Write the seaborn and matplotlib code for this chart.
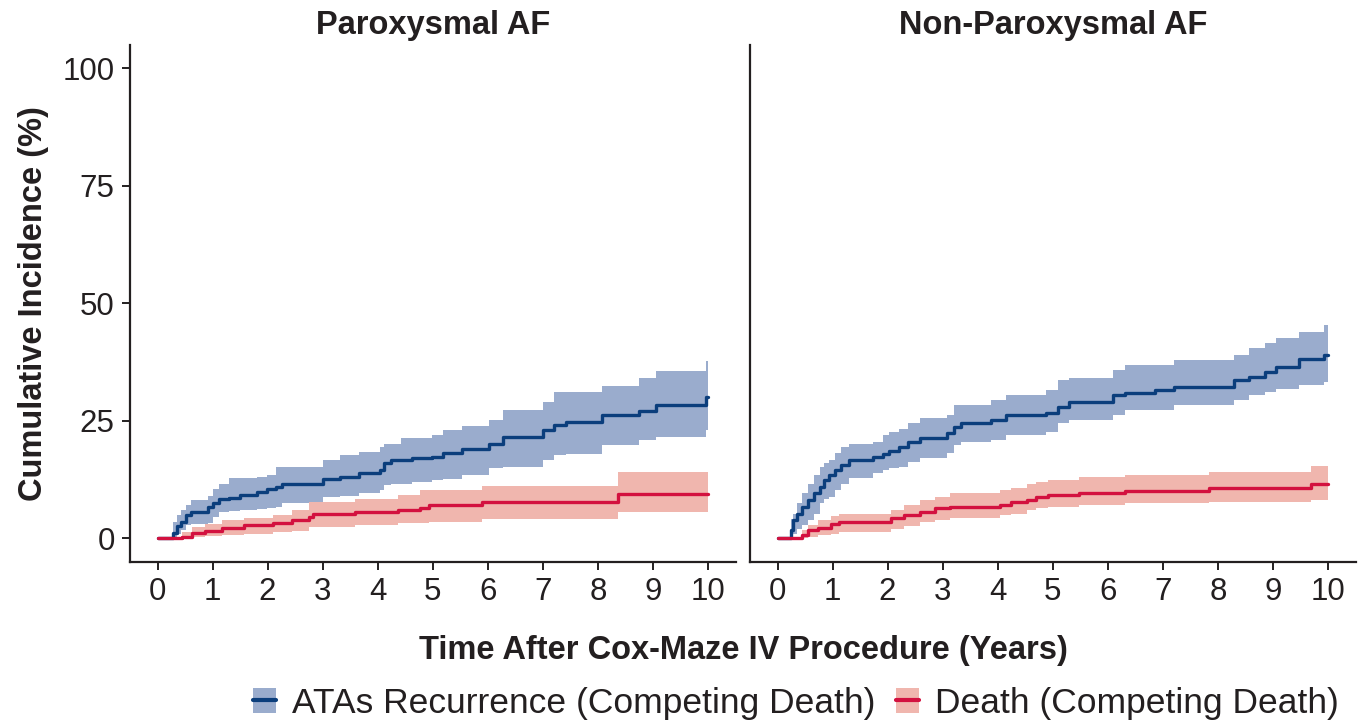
import numpy as np
import pandas as pd
import matplotlib
matplotlib.use("Agg")
import matplotlib.pyplot as plt
import seaborn as sns
from matplotlib.patches import Patch
from matplotlib.lines import Line2D

# ---------------- data ----------------
panel_titles = ["Paroxysmal AF", "Non-Paroxysmal AF"]
series_names = ["ATAs Recurrence (Competing Death)", "Death (Competing Death)"]
x_ticks = list(range(0, 11))
y_ticks = [0, 25, 50, 75, 100]

# Paroxysmal AF - ATAs recurrence
par_ata_t = [0, 0.28, 0.35, 0.42, 0.52, 0.60, 0.91, 1.00, 1.11, 1.29, 1.50, 1.81, 1.99, 2.16, 2.26, 3.00, 3.31, 3.66,
             4.04, 4.11, 4.25, 4.43, 4.63, 4.98, 5.19, 5.54, 6.03, 6.27, 7.00, 7.21, 7.42, 8.08, 8.75, 9.06, 9.97, 10.0]
par_ata_est = [0, 1.0, 2.5, 3.5, 4.9, 5.5, 6.5, 7.5, 8.2, 8.6, 9.1, 9.9, 10.4, 10.9, 11.5, 12.5, 13.0, 13.8,
               14.5, 15.9, 16.5, 16.5, 17.0, 17.3, 18.0, 18.9, 20.1, 21.4, 23.0, 24.0, 24.7, 26.2, 27.1, 28.3, 30.1, 30.1]
par_ata_hi = [0, 3.5, 5.0, 6.0, 7.0, 8.1, 9.0, 10.5, 11.6, 12.7, 12.7, 12.9, 13.4, 15.2, 15.2, 16.6, 17.7, 18.4,
              19.4, 20.1, 20.1, 21.2, 21.2, 21.9, 23.0, 23.8, 25.1, 27.2, 29.0, 31.1, 31.1, 32.3, 34.0, 35.6, 37.7, 37.7]
par_ata_lo = [0, 0.0, 0.8, 1.8, 2.8, 3.0, 3.3, 4.5, 5.6, 5.8, 6.0, 6.2, 6.4, 6.7, 7.4, 8.8, 9.0, 9.5,
              10.2, 11.3, 11.6, 11.6, 12.0, 12.3, 12.6, 13.4, 14.8, 15.2, 16.6, 17.7, 17.9, 19.8, 20.9, 21.6, 23.0, 23.0]

# Paroxysmal AF - death
par_dth_t = [0, 0.28, 0.45, 0.63, 0.87, 1.18, 1.57, 2.09, 2.44, 2.75, 2.82, 3.59, 4.36, 4.77, 4.94, 5.89, 8.36, 10.0]
par_dth_est = [0, 0.0, 0.3, 1.1, 1.6, 2.1, 2.8, 3.3, 3.8, 4.5, 5.1, 5.6, 6.0, 6.4, 7.0, 7.6, 9.4, 9.4]
par_dth_hi = [0, 0.0, 1.3, 2.4, 3.0, 3.8, 4.2, 4.9, 6.0, 7.7, 7.7, 8.4, 9.1, 10.2, 10.2, 11.1, 14.0, 14.0]
par_dth_lo = [0, 0.0, 0.0, 0.3, 0.5, 0.6, 0.9, 1.3, 1.5, 2.4, 2.4, 2.8, 3.3, 3.3, 3.5, 4.0, 5.6, 5.6]

# Non-Paroxysmal AF - ATAs recurrence
non_ata_t = [0, 0.24, 0.28, 0.35, 0.45, 0.56, 0.66, 0.77, 0.84, 0.94, 1.05, 1.15, 1.29, 1.74, 1.92, 2.02, 2.20, 2.37,
             2.58, 3.07, 3.21, 3.34, 3.87, 4.15, 4.88, 5.09, 5.30, 6.10, 6.31, 6.86, 7.21, 8.29, 8.57, 8.85, 9.06, 9.48,
             9.93, 10.0]
non_ata_est = [0, 1.7, 3.8, 5.2, 6.7, 8.1, 9.5, 10.9, 12.3, 13.4, 14.5, 15.5, 16.6, 17.3, 17.9, 18.6, 19.4, 20.5,
               21.2, 22.3, 23.7, 24.4, 25.1, 26.2, 26.5, 27.9, 29.0, 30.4, 30.9, 31.5, 32.2, 33.6, 34.3, 35.4, 36.4,
               38.0, 38.9, 38.9]
non_ata_hi = [0, 4.0, 5.2, 7.4, 9.5, 11.6, 13.4, 15.2, 16.0, 16.6, 18.0, 19.4, 20.1, 20.5, 21.9, 22.5, 23.3, 24.4,
              25.5, 26.2, 28.3, 28.3, 29.4, 30.4, 31.5, 33.6, 34.0, 35.7, 36.8, 36.8, 37.9, 38.9, 40.4, 41.5, 42.5,
              43.9, 45.3, 45.3]
non_ata_lo = [0, 0.0, 0.8, 1.9, 2.8, 3.8, 5.2, 7.4, 8.2, 8.8, 10.2, 11.5, 12.7, 13.8, 14.5, 14.8, 15.2, 16.2,
              17.0, 18.0, 19.8, 20.5, 20.8, 21.9, 22.6, 24.4, 25.1, 26.2, 27.2, 27.2, 28.3, 29.4, 30.4, 31.0, 31.8,
              32.6, 33.3, 33.3]

# Non-Paroxysmal AF - death
non_dth_t = [0, 0.38, 0.45, 0.56, 0.73, 0.98, 1.11, 2.06, 2.30, 2.58, 2.86, 3.14, 4.04, 4.25, 4.53, 4.70, 4.91, 5.47,
             6.31, 7.84, 9.69, 10.0]
non_dth_est = [0, 0.0, 0.6, 1.7, 2.2, 3.0, 3.5, 4.2, 4.9, 5.6, 6.3, 6.7, 7.0, 7.7, 8.1, 8.7, 9.1, 9.6, 10.0, 10.6,
               11.6, 11.6]
non_dth_hi = [0, 0.0, 1.7, 2.8, 3.8, 4.7, 5.2, 6.0, 7.0, 8.1, 8.8, 9.5, 10.2, 10.6, 11.6, 11.9, 12.3, 13.0, 13.4,
              14.1, 15.4, 15.4]
non_dth_lo = [0, 0.0, 0.0, 0.2, 0.6, 0.9, 1.3, 2.0, 2.5, 3.5, 3.8, 4.2, 4.9, 5.2, 6.0, 6.3, 6.7, 7.0, 7.4, 7.7,
              8.1, 8.1]

# ---------------- style ----------------
line_colors = ["#0b3e7c", "#d3113f"]
fill_colors = ["#9aaccd", "#f0b6ae"]
text_color = "#231f20"

sns.set_theme(style="ticks")
plt.rcParams["font.family"] = ["Liberation Sans", "DejaVu Sans"]
plt.rcParams["text.color"] = text_color
plt.rcParams["axes.labelcolor"] = text_color
plt.rcParams["xtick.color"] = text_color
plt.rcParams["ytick.color"] = text_color

fig = plt.figure(figsize=(13.65, 7.23), dpi=100)
W, H = 1365, 723
ax_left = fig.add_axes([130 / W, 1 - 562 / H, 605.5 / W, 517 / H])
ax_right = fig.add_axes([750 / W, 1 - 562 / H, 605.5 / W, 517 / H])

panels = [
    (ax_left, [(par_ata_t, par_ata_est, par_ata_lo, par_ata_hi), (par_dth_t, par_dth_est, par_dth_lo, par_dth_hi)]),
    (ax_right, [(non_ata_t, non_ata_est, non_ata_lo, non_ata_hi), (non_dth_t, non_dth_est, non_dth_lo, non_dth_hi)]),
]

TICK_FS = 22.5
LABEL_FS = 23.5
LEGEND_FS = 25.5

for i, (ax, series) in enumerate(panels):
    frames = []
    for name, (t, est, lo, hi), fc in zip(series_names, series, fill_colors):
        ax.fill_between(t, lo, hi, step="post", color=fc, linewidth=0, zorder=1)
        frames.append(pd.DataFrame({"time": t, "value": est, "series": name}))
    df = pd.concat(frames, ignore_index=True)
    sns.lineplot(data=df, x="time", y="value", hue="series", palette=line_colors,
                 hue_order=series_names, estimator=None, drawstyle="steps-post",
                 linewidth=2.4, legend=False, ax=ax, zorder=3)
    ax.set_xlim(-0.5, 10.5)
    ax.set_ylim(-5.1, 104.9)
    ax.set_xticks(x_ticks)
    ax.set_xticklabels([str(v) for v in x_ticks], fontsize=TICK_FS)
    ax.set_xlabel("")
    ax.set_ylabel("")
    ax.set_title(panel_titles[i], fontsize=LABEL_FS, fontweight="bold", pad=8, color=text_color)
    for s in ["top", "right"]:
        ax.spines[s].set_visible(False)
    for s in ["left", "bottom"]:
        ax.spines[s].set_linewidth(1.6)
        ax.spines[s].set_color(text_color)
    ax.tick_params(axis="both", direction="out", length=6, width=1.4, pad=5)
    if i == 0:
        ax.set_yticks(y_ticks)
        ax.set_yticklabels([str(v) for v in y_ticks], fontsize=TICK_FS)
        ax.set_ylabel("Cumulative Incidence (%)", fontsize=LABEL_FS, fontweight="bold", labelpad=10)
    else:
        ax.set_yticks([])

fig.text(743 / W, 1 - 651 / H, "Time After Cox-Maze IV Procedure (Years)", ha="center", va="center",
         fontsize=LABEL_FS, fontweight="bold", color=text_color)

handles = [(Patch(facecolor=fc, edgecolor="none"), Line2D([], [], color=lc, linewidth=3))
           for fc, lc in zip(fill_colors, line_colors)]
fig.legend(handles, series_names, loc="center", bbox_to_anchor=(796 / W, 1 - 703 / H), ncol=2,
           frameon=False, fontsize=LEGEND_FS, handlelength=0.65, handleheight=0.7, handletextpad=0.45,
           columnspacing=0.6, borderpad=0)

fig.savefig("out.png", dpi=100)
